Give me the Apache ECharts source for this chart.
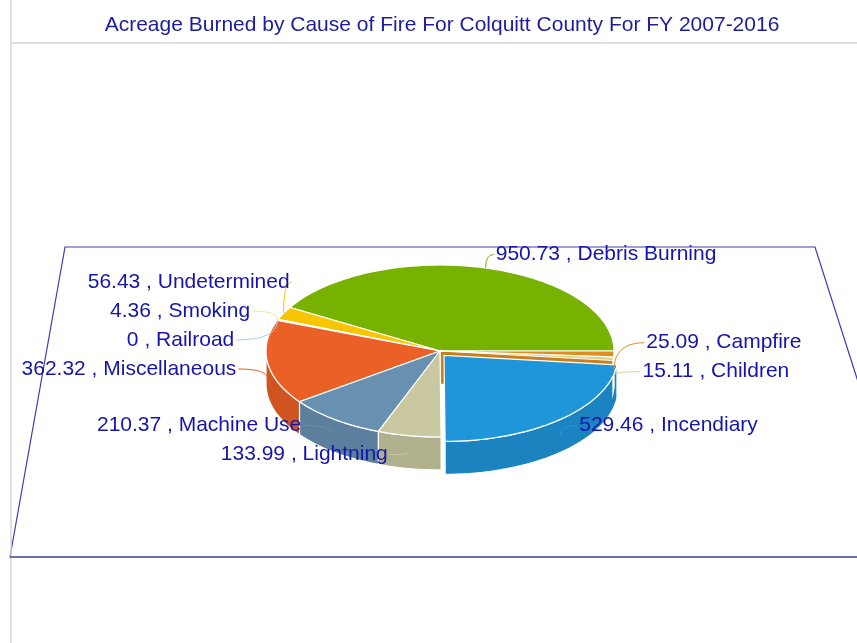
<!DOCTYPE html>
<html>
<head>
<meta charset="utf-8" />
<title>Acreage Burned by Cause of Fire</title>
<style>
  html, body { margin: 0; padding: 0; background: #fff; }
  #main { width: 857px; height: 643px; }
</style>
<script src="https://cdn.jsdelivr.net/npm/echarts@6.0.0/dist/echarts.min.js"></script>
</head>
<body>
<div id="main"></div>
<script>
const causes = ['Debris Burning', 'Undetermined', 'Smoking', 'Railroad', 'Miscellaneous', 'Machine Use', 'Lightning', 'Incendiary', 'Children', 'Campfire'];
const acres = [950.73, 56.43, 4.36, 0, 362.32, 210.37, 133.99, 529.46, 15.11, 25.09];
const colors = ['#77b200', '#f7c600', '#f2e6a0', '#9fd0ea', '#eb6026', '#6790b1', '#c9c8a0', '#1f96da', '#dccf8a', '#e08e1e'];

// pie geometry, pixels
const cx = 440, cy = 351, rx = 174, ry = 86, depth = 33;
const explode = { 'Incendiary': 6 };
const labelRx = 205, labelRy = 100, labelCy = cy, labelGap = 29;
const textColor = '#1515ad';
const font = '21px Arial, "Liberation Sans", sans-serif';

const total = acres.reduce((s, v) => s + v, 0);
let acc = 0;
const slices = acres.map((v, i) => {
  const a0 = acc / total * Math.PI * 2;
  acc += v;
  const a1 = acc / total * Math.PI * 2;
  const m = (a0 + a1) / 2;
  const off = explode[causes[i]] || 0;
  return { a0, a1, m, ox: off * Math.cos(m), oy: -off * Math.sin(m) };
});

function shade(hex, f) {
  const n = parseInt(hex.slice(1), 16);
  const c = [(n >> 16) & 255, (n >> 8) & 255, n & 255].map(v => Math.round(v * f));
  return 'rgb(' + c.join(',') + ')';
}

function rim(s, a, dy) {
  return [cx + s.ox + rx * Math.cos(a), cy + s.oy - ry * Math.sin(a) + (dy || 0)];
}

function arc(s, from, to, dy) {
  const pts = [];
  const n = Math.max(1, Math.ceil(Math.abs(to - from) / (Math.PI / 90)));
  for (let k = 0; k <= n; k++) pts.push(rim(s, from + (to - from) * k / n, dy));
  return pts;
}

// label layout: start on an outer ellipse, then spread each side apart
const labels = slices.map((s, i) => {
  const front = Math.sin(s.m) < 0;
  const anchor = rim(s, s.m, front ? depth / 2 : 0);
  return {
    i, anchor,
    right: Math.cos(s.m) >= 0,
    y: labelCy - labelRy * Math.sin(s.m)
  };
});

function spread(list) {
  list.sort((a, b) => a.y - b.y);
  for (let it = 0; it < 100; it++) {
    let moved = false;
    for (let k = 1; k < list.length; k++) {
      const d = list[k].y - list[k - 1].y;
      if (d < labelGap - 0.01) {
        const sft = (labelGap - d) / 2;
        list[k].y += sft;
        list[k - 1].y -= sft;
        moved = true;
      }
    }
    if (!moved) break;
  }
}
spread(labels.filter(l => l.right));
spread(labels.filter(l => !l.right));
labels.forEach(l => {
  const t = (l.y - labelCy) / labelRy;
  const w = labelRx * Math.sqrt(1 - Math.min(t * t, 0.94));
  l.x = l.right ? cx + w : cx - w;
});
const labelByIndex = [];
labels.forEach(l => { labelByIndex[l.i] = l; });

function renderSlice(params, api) {
  const i = api.value(1);
  const s = slices[i];
  const col = colors[i];
  const children = [];
  const center = [cx + s.ox, cy + s.oy];
  const centerLow = [center[0], center[1] + depth];
  const edge = { stroke: '#ffffff', lineWidth: 1.2 };

  if (s.a1 > s.a0) {
    // radial faces facing the viewer
    if (Math.cos(s.a0) > 0) {
      const p = rim(s, s.a0), q = rim(s, s.a0, depth);
      children.push({ type: 'polygon', z2: 10, shape: { points: [center, p, q, centerLow] },
        style: Object.assign({ fill: shade(col, 0.9) }, edge) });
    }
    if (Math.cos(s.a1) < 0) {
      const p = rim(s, s.a1), q = rim(s, s.a1, depth);
      children.push({ type: 'polygon', z2: 10, shape: { points: [center, p, q, centerLow] },
        style: Object.assign({ fill: shade(col, 0.9) }, edge) });
    }
    // outer wall on the front half
    const from = Math.max(s.a0, Math.PI), to = Math.min(s.a1, Math.PI * 2);
    if (to > from) {
      const top = arc(s, from, to, 0);
      const bottom = arc(s, to, from, depth);
      children.push({ type: 'polygon', z2: 20, shape: { points: top.concat(bottom) },
        style: Object.assign({ fill: shade(col, 0.88) }, edge) });
    }
    // top face
    children.push({ type: 'polygon', z2: 30, shape: { points: [center].concat(arc(s, s.a0, s.a1, 0)) },
      style: Object.assign({ fill: col }, edge) });
  }

  // leader and label
  const l = labelByIndex[i];
  children.push({ type: 'bezierCurve', z2: 40,
    shape: { x1: l.anchor[0], y1: l.anchor[1], x2: l.x, y2: l.y, cpx1: l.anchor[0], cpy1: l.y },
    style: { stroke: col, lineWidth: 1, fill: null } });
  children.push({ type: 'text', z2: 50, x: l.right ? l.x + 2 : l.x - 2, y: l.y,
    style: { text: acres[i] + ' , ' + causes[i], fill: textColor, font: font,
      align: l.right ? 'left' : 'right', verticalAlign: 'middle' } });

  return { type: 'group', children };
}

const chart = echarts.init(document.getElementById('main'));
chart.setOption({
  animation: false,
  backgroundColor: '#ffffff',
  title: {
    text: 'Acreage Burned by Cause of Fire For Colquitt County For FY 2007-2016',
    left: 437, top: 10, textAlign: 'center',
    textStyle: { color: '#1c1ca0', fontWeight: 'normal', fontSize: 21, fontFamily: 'Arial, "Liberation Sans", sans-serif' }
  },
  graphic: [
    { type: 'line', shape: { x1: 11, y1: 0, x2: 11, y2: 643 }, style: { stroke: '#d6d6d6', lineWidth: 1.5 } },
    { type: 'line', shape: { x1: 11, y1: 43, x2: 857, y2: 43 }, style: { stroke: '#d6d6d6', lineWidth: 1.5 } },
    { type: 'polygon', z: -1, shape: { points: [[10, 557], [65, 247], [815, 247], [914, 557]] },
      style: { fill: null, stroke: '#3c3cb2', lineWidth: 1.2 } },
    { type: 'line', shape: { x1: 10, y1: 557, x2: 857, y2: 557 }, style: { stroke: '#6a72a8', lineWidth: 1.8 } }
  ],
  series: [{
    type: 'custom',
    coordinateSystem: 'none',
    renderItem: renderSlice,
    data: acres.map((v, i) => [v, i])
  }]
});
</script>
</body>
</html>
